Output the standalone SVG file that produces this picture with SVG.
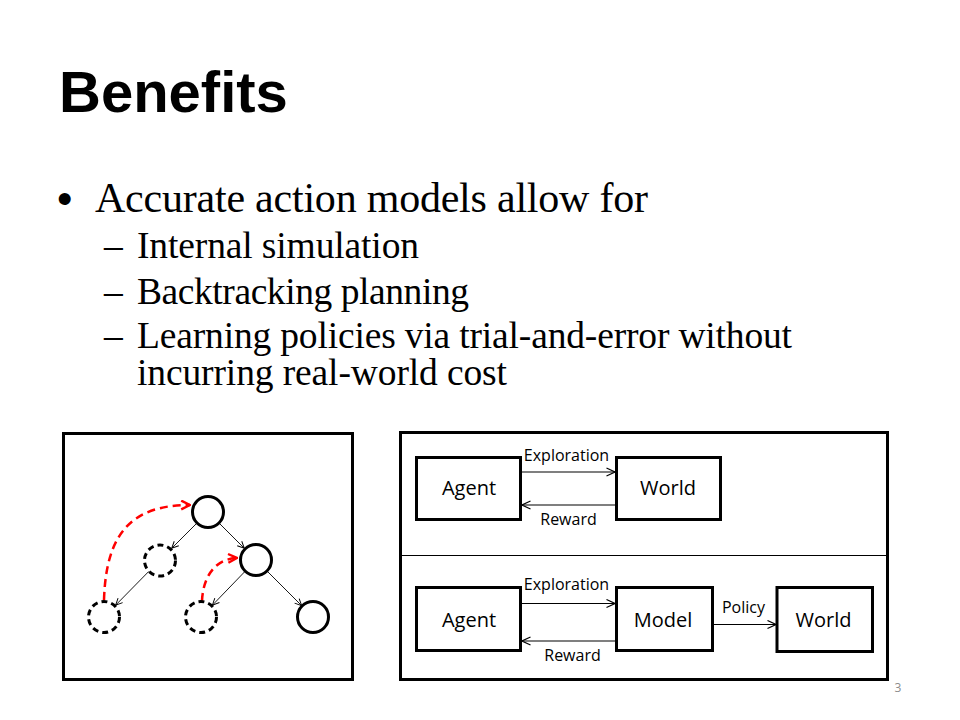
<svg xmlns="http://www.w3.org/2000/svg" width="960" height="720" viewBox="0 0 960 720">
  <defs>
    <style>
      .title { font-family: "Liberation Sans", Arial, sans-serif; font-weight: bold; font-size: 58px; fill: #000; }
      .l1 { font-family: "Liberation Serif", "Times New Roman", serif; font-size: 42px; fill: #000; }
      .l2 { font-family: "Liberation Serif", "Times New Roman", serif; font-size: 37.5px; fill: #000; }
      .bullet { font-family: "Liberation Sans", Arial, sans-serif; font-size: 44px; fill: #000; }
      .frame { fill: #fff; stroke: #000; stroke-width: 3; }
      .node { fill: #fff; stroke: #000; stroke-width: 3; }
      .ghost { fill: #fff; stroke: #000; stroke-width: 3; stroke-dasharray: 6 4; }
      .thin { stroke: #000; stroke-width: 0.9; fill: none; marker-end: url(#arrowSmall); }
      .red { stroke: #ff0000; stroke-width: 2.5; fill: none; stroke-dasharray: 8 5; marker-end: url(#arrowRed); }
      .box { fill: #fff; stroke: #000; stroke-width: 3; }
      .conn { stroke: #000; stroke-width: 1.2; fill: none; marker-end: url(#arrowOpen); }
      .big { font-family: "Open Sans", "Liberation Sans", sans-serif; font-size: 20px; fill: #000; text-anchor: middle; }
      .small { font-family: "Open Sans", "Liberation Sans", sans-serif; font-size: 16px; fill: #000; text-anchor: middle; }
      .page { font-family: "Open Sans", "Liberation Sans", sans-serif; font-size: 12px; fill: #8c8c8c; text-anchor: middle; }
    </style>
    <marker id="arrowSmall" viewBox="0 0 10 10" refX="9.5" refY="5" markerWidth="8" markerHeight="8" markerUnits="userSpaceOnUse" orient="auto">
      <path d="M1,1 L9.5,5 L1,9" fill="none" stroke="#000" stroke-width="1.2"/>
    </marker>
    <marker id="arrowRed" viewBox="0 0 10 10" refX="9" refY="5" markerWidth="11" markerHeight="11" markerUnits="userSpaceOnUse" orient="auto">
      <path d="M1,1 L9,5 L1,9" fill="none" stroke="#ff0000" stroke-width="2.2"/>
    </marker>
    <marker id="arrowOpen" viewBox="0 0 10 10" refX="9.5" refY="5" markerWidth="10" markerHeight="10" markerUnits="userSpaceOnUse" orient="auto">
      <path d="M1,1 L9.5,5 L1,9" fill="none" stroke="#000" stroke-width="1.2"/>
    </marker>
  </defs>

  <rect x="0" y="0" width="960" height="720" fill="#fff"/>

  <g id="title">
    <text class="title" x="59" y="112">Benefits</text>
  </g>

  <g id="body">
    <text class="bullet" x="57" y="214">•</text>
    <text class="l1" x="95" y="212" textLength="553">Accurate action models allow for</text>
    <text class="l2" x="104" y="258">–</text>
    <text class="l2" x="137" y="258" textLength="282">Internal simulation</text>
    <text class="l2" x="104" y="304">–</text>
    <text class="l2" x="137" y="304" textLength="332">Backtracking planning</text>
    <text class="l2" x="104" y="348">–</text>
    <text class="l2" x="137" y="348" textLength="655">Learning policies via trial-and-error without</text>
    <text class="l2" x="137" y="385" textLength="370">incurring real-world cost</text>
  </g>

  <!-- Left panel: search tree -->
  <g id="tree-frame">
    <rect class="frame" x="63.5" y="433.5" width="289" height="246"/>
  </g>
  <g id="tree-connectors">
    <line class="thin" x1="196.7" y1="523.3" x2="171.7" y2="548.3"/>
    <line class="thin" x1="219.3" y1="523.3" x2="244.3" y2="548.3"/>
    <line class="thin" x1="148.8" y1="571.4" x2="115.6" y2="605.2"/>
    <line class="thin" x1="244.9" y1="571.5" x2="212.4" y2="605.2"/>
    <line class="thin" x1="267.3" y1="571.3" x2="301.7" y2="605.7"/>
    <path class="red" d="M104,600 C106,535 130,505 190,505"/>
    <path class="red" d="M202,601 C203,578 214,559 237,558"/>
  </g>
  <g id="node-root"><circle class="node" cx="208" cy="512" r="15.5"/></g>
  <g id="node-left"><circle class="ghost" cx="160" cy="560.5" r="15.5"/></g>
  <g id="node-right"><circle class="node" cx="256" cy="560" r="15.5"/></g>
  <g id="node-ll"><circle class="ghost" cx="104" cy="617" r="15.5"/></g>
  <g id="node-rl"><circle class="ghost" cx="201" cy="617" r="15.5"/></g>
  <g id="node-rr"><circle class="node" cx="313" cy="617" r="15.5"/></g>

  <!-- Right panel -->
  <g id="rl-frame">
    <rect class="frame" x="400.5" y="432.5" width="487" height="247"/>
    <line x1="400" y1="555.5" x2="888" y2="555.5" stroke="#000" stroke-width="1.2"/>
  </g>

  <g id="connectors">
    <line class="conn" x1="521" y1="472" x2="615" y2="472"/>
    <line class="conn" x1="616" y1="505" x2="522" y2="505"/>
    <line class="conn" x1="521" y1="603.5" x2="615" y2="603.5"/>
    <line class="conn" x1="616" y1="641" x2="522" y2="641"/>
    <line class="conn" x1="713" y1="624.5" x2="776" y2="624.5"/>
    <text class="small" x="566.5" y="460.5">Exploration</text>
    <text class="small" x="568.5" y="525">Reward</text>
    <text class="small" x="566.5" y="590">Exploration</text>
    <text class="small" x="572.5" y="661">Reward</text>
    <text class="small" x="743.5" y="612.5">Policy</text>
  </g>

  <g id="agent-top">
    <rect class="box" x="416.5" y="457.5" width="104" height="62"/>
    <text class="big" x="469" y="495">Agent</text>
  </g>
  <g id="world-top">
    <rect class="box" x="616.5" y="457.5" width="104" height="62"/>
    <text class="big" x="668" y="495">World</text>
  </g>
  <g id="agent-bottom">
    <rect class="box" x="416.5" y="587.5" width="104" height="63"/>
    <text class="big" x="469" y="626.5">Agent</text>
  </g>
  <g id="model-bottom">
    <rect class="box" x="616.5" y="587.5" width="96" height="63"/>
    <text class="big" x="663" y="626.5">Model</text>
  </g>
  <g id="world-bottom">
    <rect class="box" x="777" y="587.5" width="95.5" height="64"/>
    <text class="big" x="823.5" y="626.5">World</text>
  </g>

  <g id="page-number">
    <text class="page" x="898" y="692">3</text>
  </g>
</svg>
